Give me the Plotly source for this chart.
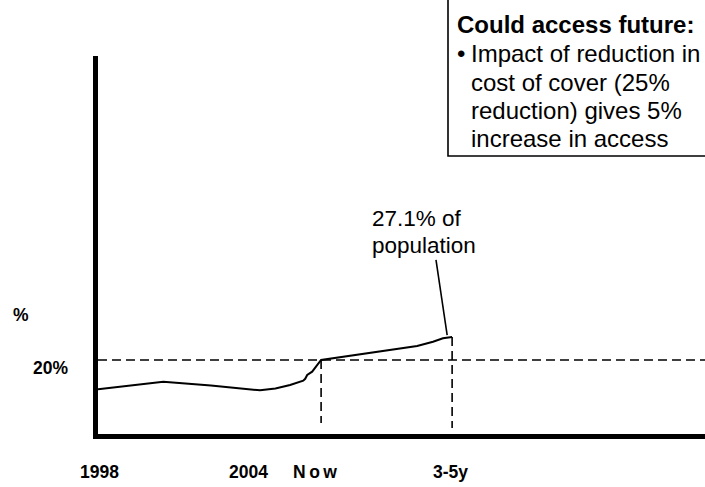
import plotly.graph_objects as go

# ---- data ----
years = [1997.95, 2000.58, 2002.5, 2004.48, 2005.1, 2005.69, 2006.22, 2006.3, 2006.38, 2006.58, 2006.94,
         2008.79, 2010.81, 2011.45, 2011.85, 2012.22]
access_pct = [10.95, 13.3, 12.1, 10.65, 11.2, 12.3, 13.6, 14.2, 15.35, 16.4, 20.0,
              22.07, 24.32, 25.65, 26.7, 27.1]
tick_pos = [1998, 2004, 2006.70, 2012.14]
tick_text = ["1998", "2004", "N\u2009o\u2009w", "3-5y"]
ref_level = 20.0
now_x = 2006.94
future_x = 2012.22
future_val = 27.1
box_title = "Could access future:"
box_lines = ["Impact of reduction in", "cost of cover (25%", "reduction) gives 5%", "increase in access"]

FONT = "Liberation Sans, Arial, sans-serif"
X_RANGE = [1997.95, 2022.41]
Y_RANGE = [-2.85, 113.85]
PLOT_TOP, PLOT_BOTTOM, PLOT_LEFT, PLOT_W = 56, 434, 98, 607
PLOT_H = PLOT_BOTTOM - PLOT_TOP


def py(p):
    return (PLOT_BOTTOM - p) / PLOT_H


def px(p):
    return (p - PLOT_LEFT) / PLOT_W


fig = go.Figure()
fig.add_trace(go.Scatter(x=years, y=access_pct, mode="lines",
                         line=dict(color="black", width=2), hoverinfo="skip", showlegend=False))

dash = "9px,5px"
shapes = [
    dict(type="line", xref="paper", yref="y", x0=0, x1=1, y0=ref_level, y1=ref_level,
         line=dict(color="black", width=1.6, dash=dash)),
    dict(type="line", xref="x", yref="y", x0=now_x, x1=now_x, y0=ref_level, y1=0.55,
         line=dict(color="black", width=1.6, dash=dash)),
    dict(type="line", xref="x", yref="y", x0=future_x, x1=future_x, y0=future_val, y1=-1.0,
         line=dict(color="black", width=1.6, dash=dash)),
    # leader line for label
    dict(type="line", xref="x", yref="y", x0=future_x - 0.65, y0=50.9, x1=future_x - 0.2, y1=future_val + 0.6,
         line=dict(color="black", width=1.6)),
    # text box
    dict(type="rect", xref="paper", yref="paper", x0=px(448), x1=1.1, y0=py(156), y1=1.3,
         line=dict(color="black", width=1.6), fillcolor="white", layer="above"),
]

ann = []
LBL = 17.5
for xv, t in zip(tick_pos, tick_text):
    ann.append(dict(x=xv, y=py(472), xref="x", yref="paper", text=f"<b>{t}</b>",
                    showarrow=False, xanchor="center", yanchor="middle",
                    font=dict(size=LBL, family=FONT, color="black")))
ann.append(dict(x=px(20.5), y=py(315), xref="paper", yref="paper", text="<b>%</b>",
                showarrow=False, xanchor="center", yanchor="middle",
                font=dict(size=LBL, family=FONT, color="black")))
ann.append(dict(x=px(50.5), y=py(368), xref="paper", yref="paper", text="<b>20%</b>",
                showarrow=False, xanchor="center", yanchor="middle",
                font=dict(size=LBL, family=FONT, color="black")))
# population label
for t, yp in [("27.1% of", 218), ("population", 245)]:
    ann.append(dict(x=px(371), y=py(yp), xref="paper", yref="paper", text=t,
                    showarrow=False, xanchor="left", yanchor="middle", borderpad=0,
                    font=dict(size=22.5, family=FONT, color="black")))
# box text
BX = 24
ann.append(dict(x=px(455), y=py(24), xref="paper", yref="paper", text=f"<b>{box_title}</b>",
                showarrow=False, xanchor="left", yanchor="middle",
                font=dict(size=BX, family=FONT, color="black")))
ann.append(dict(x=px(461), y=py(54), xref="paper", yref="paper", text="•",
                showarrow=False, xanchor="center", yanchor="middle",
                font=dict(size=BX, family=FONT, color="black")))
for t, yp in zip(box_lines, [54, 82, 110, 138]):
    ann.append(dict(x=px(469), y=py(yp), xref="paper", yref="paper", text=t,
                    showarrow=False, xanchor="left", yanchor="middle",
                    font=dict(size=BX, family=FONT, color="black")))

fig.update_layout(
    width=705, height=487,
    margin=dict(l=PLOT_LEFT, r=705 - PLOT_LEFT - PLOT_W, t=PLOT_TOP, b=487 - PLOT_BOTTOM, pad=0),
    paper_bgcolor="white", plot_bgcolor="white",
    xaxis=dict(range=X_RANGE, showgrid=False, zeroline=False, showticklabels=False, ticks="",
               showline=True, linecolor="black", linewidth=5),
    yaxis=dict(range=Y_RANGE, showgrid=False, zeroline=False, showticklabels=False, ticks="",
               showline=True, linecolor="black", linewidth=5),
    shapes=shapes, annotations=ann, showlegend=False,
)
fig.write_html("out.html", config={"displayModeBar": False})
